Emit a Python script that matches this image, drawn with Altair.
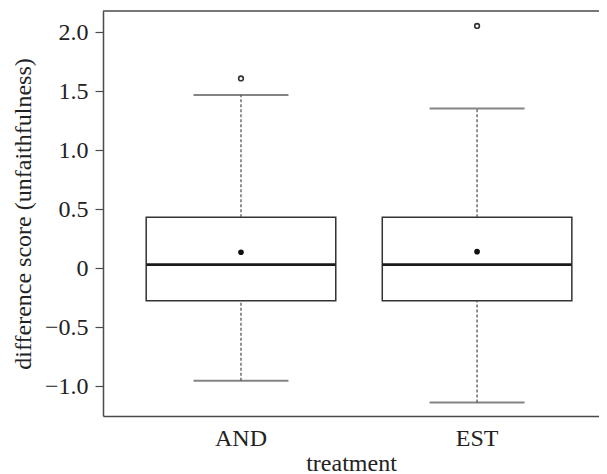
import altair as alt
import pandas as pd

# ---- data ----
treatments = ["AND", "EST"]
q1 = [-0.275, -0.275]
median = [0.031, 0.031]
q3 = [0.433, 0.433]
whisker_low = [-0.953, -1.139]
whisker_high = [1.47, 1.354]
means = [0.136, 0.141]
outlier_treatment = ["AND", "EST"]
outlier_value = [1.61, 2.055]
y_ticks = [-1.0, -0.5, 0.0, 0.5, 1.0, 1.5, 2.0]

stats = pd.DataFrame({
    "treatment": treatments,
    "q1": q1,
    "median": median,
    "q3": q3,
    "lo": whisker_low,
    "hi": whisker_high,
    "mean": means,
})
outliers = pd.DataFrame({"treatment": outlier_treatment, "value": outlier_value})

W, H = 496, 405
FONT = "'Liberation Serif', 'Times New Roman', Times, serif"
FS = 24
TXT = "#222222"
LINE = "#4a4a4a"

yscale = alt.Scale(domain=[-1.253, 2.182], nice=False, zero=False)
xscale = alt.Scale(paddingInner=0.197, paddingOuter=0.149, align=0.614)

yaxis = alt.Axis(
    title="difference score (unfaithfulness)",
    values=y_ticks,
    labelExpr="datum.value == 0 ? '0' : replace(format(datum.value, '.1f'), '-', '\u2013')",
    grid=False,
    tickSize=8,
    labelPadding=7,
    titleX=-80,
    titleBaseline="middle",
)
xaxis = alt.Axis(
    title="treatment",
    labelAngle=0,
    ticks=False,
    grid=False,
    labelPadding=10,
    titleY=54,
    titleBaseline="alphabetic",
)

X = alt.X("treatment:N", scale=xscale, axis=xaxis, sort=treatments)

box = alt.Chart(stats).mark_bar(
    fill="white", stroke="#333333", strokeWidth=1.5
).encode(
    x=X,
    y=alt.Y("q1:Q", scale=yscale, axis=yaxis),
    y2="q3:Q",
)

whisk_up = alt.Chart(stats).mark_rule(
    color=LINE, strokeWidth=1.2, strokeDash=[3, 2]
).encode(x=X, y=alt.Y("q3:Q", scale=yscale, axis=yaxis), y2="hi:Q")

whisk_dn = alt.Chart(stats).mark_rule(
    color=LINE, strokeWidth=1.2, strokeDash=[3, 2]
).encode(x=X, y=alt.Y("lo:Q", scale=yscale, axis=yaxis), y2="q1:Q")

cap_hi = alt.Chart(stats).mark_tick(
    color="#505050", size=95, thickness=2, orient="horizontal"
).encode(x=X, y=alt.Y("hi:Q", scale=yscale, axis=yaxis))

cap_lo = alt.Chart(stats).mark_tick(
    color="#505050", size=95, thickness=2, orient="horizontal"
).encode(x=X, y=alt.Y("lo:Q", scale=yscale, axis=yaxis))

med = alt.Chart(stats).mark_tick(
    color="#1a1a1a", size=189, thickness=2.6, orient="horizontal", opacity=1
).encode(x=X, y=alt.Y("median:Q", scale=yscale, axis=yaxis))

mean_pt = alt.Chart(stats).mark_point(
    filled=True, color="#111111", size=32, shape="circle", opacity=1
).encode(x=X, y=alt.Y("mean:Q", scale=yscale, axis=yaxis))

out_pt = alt.Chart(outliers).mark_point(
    filled=False, color="#333333", size=22, strokeWidth=1.6, shape="circle", opacity=1
).encode(x=X, y=alt.Y("value:Q", scale=yscale, axis=yaxis))

top_line = alt.Chart(pd.DataFrame({"a": [0]})).mark_rule(
    color=LINE, strokeWidth=1.5
).encode(x=alt.value(0), x2=alt.value(W), y=alt.value(0))

chart = alt.layer(
    box, whisk_up, whisk_dn, cap_hi, cap_lo, med, mean_pt, out_pt, top_line
).properties(
    width=W,
    height=H,
    autosize=alt.AutoSizeParams(type="none"),
    padding={"left": 95, "top": 3, "right": 0, "bottom": 58},
).configure_view(
    stroke=None
).configure_axis(
    labelFont=FONT,
    titleFont=FONT,
    labelFontSize=FS,
    titleFontSize=FS,
    labelColor=TXT,
    titleColor=TXT,
    titleFontWeight="normal",
    domainColor=LINE,
    domainWidth=1.5,
    tickColor=LINE,
    tickWidth=1.2,
)

chart.save("out.html", embed_options={"renderer": "svg", "actions": False})
